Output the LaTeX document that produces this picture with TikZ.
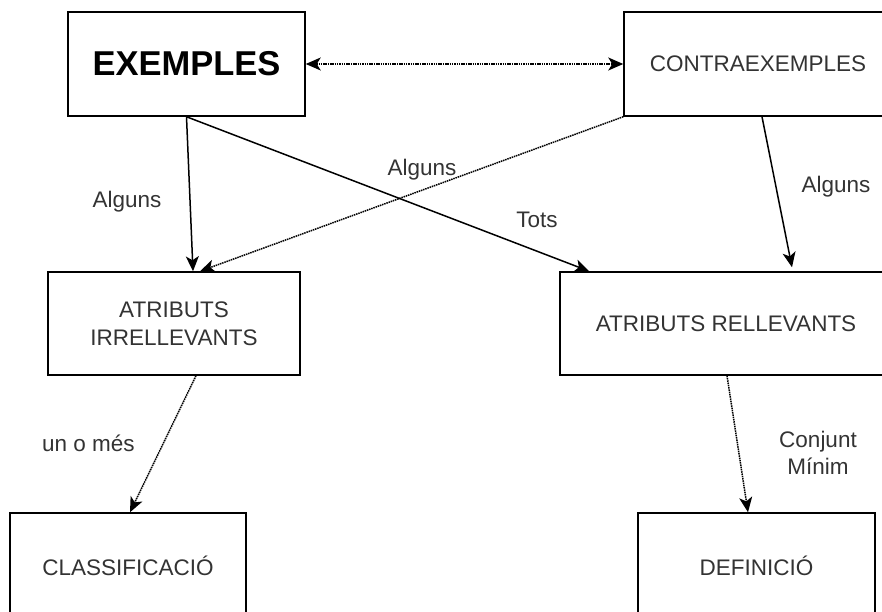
\documentclass[tikz,border=0pt]{standalone}
\usepackage{fontspec}
\setmainfont{Liberation Sans}
\usetikzlibrary{arrows.meta}
\definecolor{txt}{HTML}{333333}
\tikzset{
  box/.style={draw=black, line width=1.5pt, fill=white, rectangle, align=center, text=txt, font=\fontsize{22.5}{28}\selectfont},
  lbl/.style={text=txt, font=\fontsize{22.5}{27}\selectfont, align=center, inner sep=0pt},
  conn/.style={line width=1.5pt, -{Stealth[length=15pt,width=13pt,inset=4pt]}},
  dots/.style={line width=1.5pt, dash pattern=on 1.5pt off 0.8pt},
}
\begin{document}
\begin{tikzpicture}[x=1pt,y=-1pt]
\useasboundingbox (0,0) rectangle (882,612);
\begin{scope}
\clip (0,0) rectangle (882,612);
\node[box, minimum width=237pt, minimum height=104pt, text=black, font=\bfseries\fontsize{34.5}{40}\selectfont] (ex) at (186.5,64) {EXEMPLES};
\node[box, minimum width=268pt, minimum height=104pt] (ce) at (758,64) {CONTRAEXEMPLES};
\node[box, minimum width=252pt, minimum height=103pt] (ai) at (174,323.5) {ATRIBUTS\\IRRELLEVANTS};
\node[box, minimum width=332pt, minimum height=103pt] (ar) at (726,323.5) {ATRIBUTS RELLEVANTS};
\node[box, minimum width=236pt, minimum height=106pt] (cl) at (128,566) {CLASSIFICACIÓ};
\node[box, minimum width=237pt, minimum height=106pt] (de) at (756.5,566) {DEFINICIÓ};

\draw[dots, {Stealth[length=15pt,width=13pt,inset=4pt]}-{Stealth[length=15pt,width=13pt,inset=4pt]}] (ex.east) -- (ce.west);
\draw[conn] (ex.south) -- ([xshift=19pt]ai.north);
\draw[conn] (ex.south) -- ([xshift=30pt]ar.north west);
\draw[conn, dots] (ce.south west) -- ([xshift=26pt]ai.north);
\draw[conn] ([xshift=4pt]ce.south) -- ([xshift=66pt,yshift=4pt]ar.north);
\draw[conn, dots] ([xshift=22pt]ai.south) -- ([xshift=2pt]cl.north);
\draw[conn, dots] ([xshift=1pt]ar.south) -- ([xshift=-8.5pt]de.north);

\node[lbl] (l1) at (127,202) {Alguns};
\node[lbl] (l2) at (422,170) {Alguns};
\node[lbl] (l3) at (537,220) {Tots};
\node[lbl] (l4) at (836,187) {Alguns};
\node[lbl] (l5) at (88.5,443) {un o més};
\node[lbl] (l6) at (818,453) {Conjunt\\Mínim};
\end{scope}
\end{tikzpicture}
\end{document}
